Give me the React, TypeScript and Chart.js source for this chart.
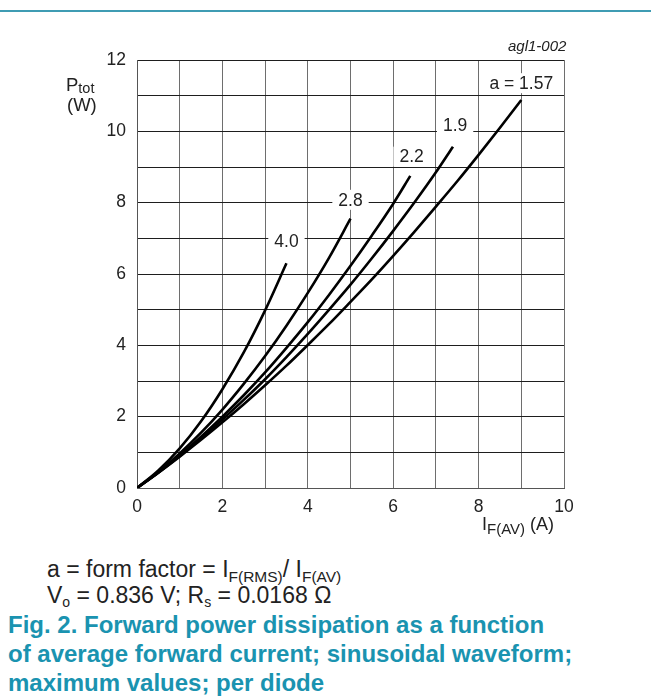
import React, { useEffect, useRef } from "react";
import { Chart, registerables } from "chart.js";

Chart.register(...registerables);

// ---- data ----
const iA400 = [0, 0.5, 1, 1.5, 2, 2.5, 3, 3.5];
const pA400 = [0, 0.49, 1.11, 1.87, 2.77, 3.8, 4.98, 6.3];

const iA280 = [0, 0.5, 1, 1.5, 2, 2.5, 3, 3.5, 4, 4.5, 5];
const pA280 = [0, 0.45, 0.97, 1.55, 2.2, 2.92, 3.7, 4.55, 5.47, 6.46, 7.55];

const iA220 = [0, 0.5, 1, 1.5, 2, 2.5, 3, 3.5, 4, 4.5, 5, 5.5, 6, 6.4];
const pA220 = [0, 0.44, 0.92, 1.44, 2.0, 2.6, 3.24, 3.93, 4.65, 5.42, 6.23, 7.08, 7.97, 8.75];

const iA190 = [0, 0.5, 1, 1.5, 2, 2.5, 3, 3.5, 4, 4.5, 5, 5.5, 6, 6.5, 7, 7.4];
const pA190 = [0, 0.43, 0.9, 1.39, 1.92, 2.47, 3.05, 3.67, 4.32, 5.0, 5.7, 6.44, 7.21, 8.01, 8.85, 9.57];

const iA157 = [0, 0.5, 1, 1.5, 2, 2.5, 3, 3.5, 4, 4.5, 5, 5.5, 6, 6.5, 7, 7.5, 8, 8.5, 9];
const pA157 = [0, 0.43, 0.88, 1.35, 1.84, 2.35, 2.88, 3.43, 4.01, 4.6, 5.22, 5.85, 6.51, 7.19, 7.89, 8.6, 9.34, 10.1, 10.88];

const curveLabels = ["4.0", "2.8", "2.2", "1.9", "a = 1.57"];
const curveLabelX = [3.5, 5.0, 6.43, 7.45, 9.0];
const curveLabelY = [6.93, 8.08, 9.29, 10.18, 11.35];

const xTickLabels = ["0", "2", "4", "6", "8", "10"];
const yTickLabels = ["0", "2", "4", "6", "8", "10", "12"];

const FONT = "'Liberation Sans', Arial, Helvetica, sans-serif";

const toPoints = (xs: number[], ys: number[]) => xs.map((x, i) => ({ x, y: ys[i] }));

const labelPlugin = {
  id: "curveLabels",
  afterDatasetsDraw(chart: any) {
    const { ctx, scales } = chart;
    ctx.save();
    ctx.font = `17.5px ${FONT}`;
    ctx.textAlign = "center";
    ctx.textBaseline = "middle";
    curveLabels.forEach((t, i) => {
      const px = scales.x.getPixelForValue(curveLabelX[i]);
      const py = scales.y.getPixelForValue(curveLabelY[i]);
      const w = ctx.measureText(t).width + 12;
      const h = 20;
      ctx.fillStyle = "#ffffff";
      ctx.fillRect(px - w / 2, py - h / 2, w, h);
      ctx.fillStyle = "#222222";
      ctx.fillText(t, px, py + 1);
    });
    ctx.restore();
  },
};

function PlotCanvas() {
  const ref = useRef<HTMLCanvasElement | null>(null);
  useEffect(() => {
    if (!ref.current) return;
    const mk = (xs: number[], ys: number[]) => ({
      data: toPoints(xs, ys),
      borderColor: "#000000",
      borderWidth: 2.6,
      pointRadius: 0,
      fill: false,
      cubicInterpolationMode: "monotone" as const,
    });
    const chart = new Chart(ref.current, {
      type: "line",
      data: {
        datasets: [
          mk(iA400, pA400),
          mk(iA280, pA280),
          mk(iA220, pA220),
          mk(iA190, pA190),
          mk(iA157, pA157),
        ],
      },
      options: {
        animation: false,
        responsive: false,
        devicePixelRatio: 1,
        layout: { padding: { left: 0, right: 87, top: 60, bottom: 0 } },
        plugins: { legend: { display: false }, tooltip: { enabled: false } },
        scales: {
          x: {
            type: "linear",
            min: 0,
            max: 10,
            afterFit: (s: any) => {
              s.height = 52;
            },
            ticks: {
              stepSize: 1,
              padding: 9,
              color: "#222222",
              font: { family: FONT, size: 17.5 },
              maxRotation: 0,
              autoSkip: false,
              callback: (v: any) => {
                const idx = xTickLabels.indexOf(String(v));
                return idx >= 0 ? xTickLabels[idx] : "";
              },
            },
            grid: { color: "#6e6e6e", lineWidth: 1, drawTicks: false },
            border: { display: true, color: "#555555", width: 1 },
          },
          y: {
            type: "linear",
            min: 0,
            max: 12,
            afterFit: (s: any) => {
              s.width = 137;
            },
            ticks: {
              stepSize: 1,
              padding: 11,
              color: "#222222",
              font: { family: FONT, size: 17.5 },
              autoSkip: false,
              callback: (v: any) => {
                const idx = yTickLabels.indexOf(String(v));
                return idx >= 0 ? yTickLabels[idx] : "";
              },
            },
            grid: { color: "#1e1e1e", lineWidth: 1, drawTicks: false },
            border: { display: true, color: "#555555", width: 1 },
          },
        },
      },
      plugins: [labelPlugin],
    });
    return () => chart.destroy();
  }, []);
  return (
    <canvas
      ref={ref}
      width={651}
      height={540}
      style={{ position: "absolute", left: 0, top: 0, width: 651, height: 540 }}
    />
  );
}

export default function App() {
  const base: React.CSSProperties = {
    position: "absolute",
    fontFamily: FONT,
    color: "#222222",
    whiteSpace: "nowrap",
    lineHeight: 1,
  };
  return (
    <div
      style={{
        position: "fixed",
        left: 0,
        top: 0,
        width: 651,
        height: 696,
        background: "#ffffff",
        overflow: "hidden",
      }}
    >
      <div
        style={{
          position: "absolute",
          left: 0,
          top: 10,
          width: 651,
          height: 2,
          background: "#3f9cb3",
        }}
      />
      <PlotCanvas />
      <div style={{ ...base, left: 508, top: 38, fontSize: 15, fontStyle: "italic" }}>agl1-002</div>
      <div style={{ ...base, left: 66, top: 76, fontSize: 18.5 }}>
        P<span style={{ fontSize: 14.5, verticalAlign: -2 }}>tot</span>
      </div>
      <div style={{ ...base, left: 67, top: 96, fontSize: 18.5 }}>(W)</div>
      <div style={{ ...base, left: 482, top: 515, fontSize: 18 }}>
        I<span style={{ fontSize: 15, verticalAlign: -4 }}>F(AV)</span> (A)
      </div>
      <div style={{ ...base, left: 47, top: 558, fontSize: 23 }}>
        a = form factor = I<span style={{ fontSize: 15.5, verticalAlign: -5 }}>F(RMS)</span>/ I
        <span style={{ fontSize: 15.5, verticalAlign: -5 }}>F(AV)</span>
      </div>
      <div style={{ ...base, left: 47, top: 584, fontSize: 23 }}>
        V<span style={{ fontSize: 14, verticalAlign: -4 }}>o</span> = 0.836 V; R
        <span style={{ fontSize: 14, verticalAlign: -4 }}>s</span> = 0.0168 Ω
      </div>
      <div
        style={{
          ...base,
          left: 8,
          top: 610,
          fontSize: 24,
          fontWeight: "bold",
          lineHeight: "29px",
          color: "#1a93b0",
        }}
      >
        Fig. 2. Forward power dissipation as a function
        <br />
        of average forward current; sinusoidal waveform;
        <br />
        maximum values; per diode
      </div>
    </div>
  );
}
